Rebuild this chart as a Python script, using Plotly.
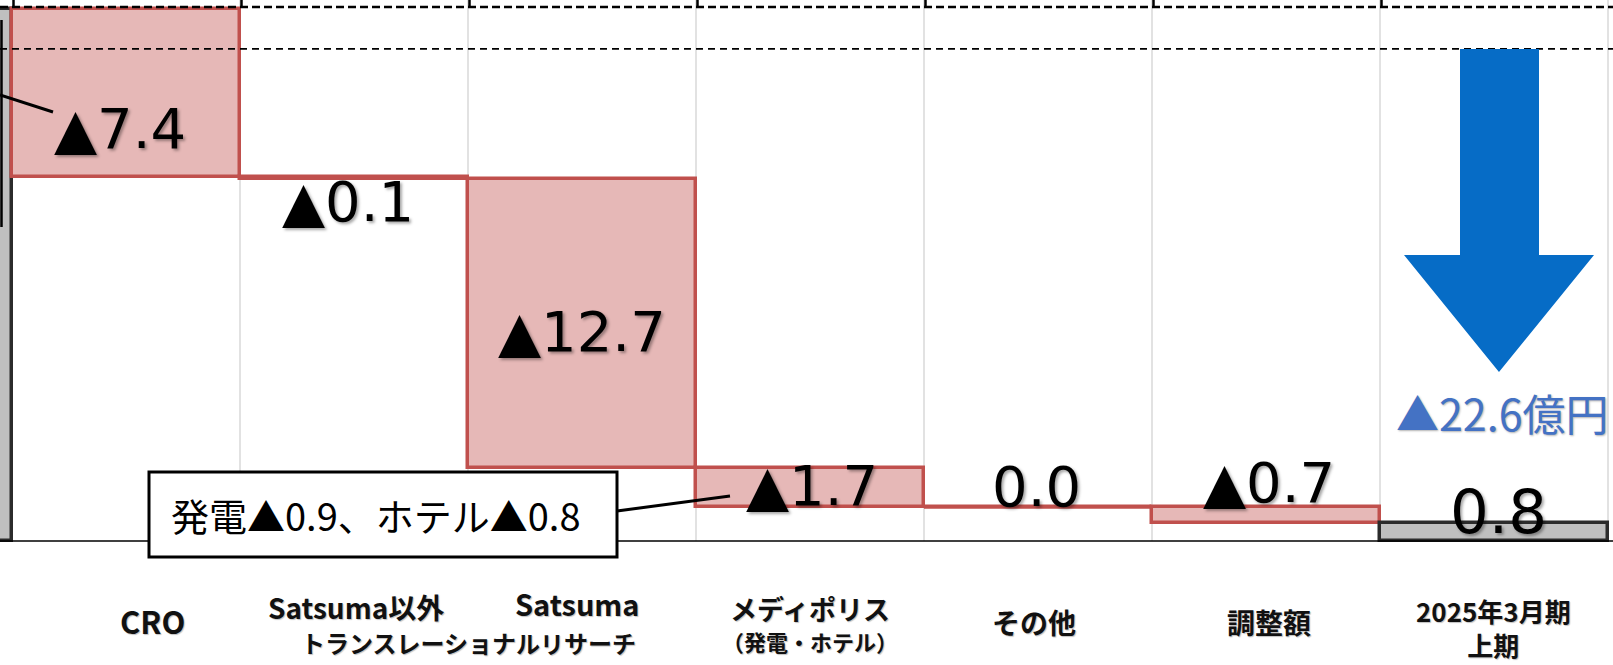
import plotly.graph_objects as go

# ---------------- data ----------------
categories = ["2024年3月期上期", "CRO", "Satsuma以外", "Satsuma", "メディポリス",
              "その他", "調整額", "2025年3月期"]
sub_labels = {"Satsuma以外": "トランスレーショナルリサーチ",
              "メディポリス": "（発電・ホテル）",
              "2025年3月期": "上期"}
start_total = 23.4
changes = [-7.4, -0.1, -12.7, -1.7, 0.0, -0.7]
end_total = 0.8
total_change_label = "▲22.6億円"
breakdown_label = "発電▲0.9、ホテル▲0.8"
ref_levels = [23.48, 21.64]   # dashed reference lines

# ---------------- geometry helpers ----------------
W, H = 1613, 665
COL_W = 228.0
PX_PER_UNIT = 22.74
BASE_PX = 541.0
X0 = 0.5 - 12.0 / COL_W
X1 = X0 + W / COL_W
Y_TOP = BASE_PX / PX_PER_UNIT
Y_BOT = -(H - BASE_PX) / PX_PER_UNIT


def xd(px):
    return X0 + px / COL_W


def yd(py):
    return (BASE_PX - py) / PX_PER_UNIT


# ---------------- waterfall computation ----------------
bases, heights, fills, lines = [], [], [], []
bases.append(0.0); heights.append(start_total)
fills.append("#BFBFBF"); lines.append("#2B2B2B")
level = start_total
levels_after = []
for c in changes:
    new_level = level + c
    bases.append(min(level, new_level))
    heights.append(abs(c))
    fills.append("#E6B8B7"); lines.append("#C0504D")
    level = new_level
    levels_after.append(level)
bases.append(0.0); heights.append(end_total)
fills.append("#BFBFBF"); lines.append("#2B2B2B")

xs = list(range(len(categories)))

fig = go.Figure()
fig.add_trace(go.Bar(
    x=xs, y=heights, base=bases, width=1.0,
    marker=dict(color=fills, line=dict(color=lines, width=3.5)),
    hoverinfo="skip", showlegend=False,
))

# zero-height changes drawn as a flat line
for i, c in enumerate(changes):
    if c == 0:
        lvl = levels_after[i]
        fig.add_trace(go.Scatter(
            x=[i + 1 - 0.5, i + 1 + 0.5], y=[lvl, lvl], mode="lines",
            line=dict(color="#C0504D", width=3.5), hoverinfo="skip", showlegend=False))

shapes = []
# vertical light gridlines at column boundaries
for b in range(1, 8):
    shapes.append(dict(type="line", xref="x", yref="y", x0=b + 0.5, x1=b + 0.5,
                       y0=0, y1=Y_TOP, line=dict(color="#D9D9D9", width=1.5), layer="below"))
# dashed reference lines
shapes.append(dict(type="line", xref="paper", yref="y", x0=0, x1=1, y0=ref_levels[0], y1=ref_levels[0],
                   line=dict(color="black", width=2.5, dash="8px,4px"), layer="above"))
shapes.append(dict(type="line", xref="paper", yref="y", x0=0, x1=1, y0=ref_levels[1], y1=ref_levels[1],
                   line=dict(color="black", width=1.6, dash="7px,5px"), layer="above"))
# short black ticks above the top dashed line
for b in range(0, 7):
    shapes.append(dict(type="line", xref="x", yref="y", x0=b + 0.5 + 1.5 / COL_W, x1=b + 0.5 + 1.5 / COL_W,
                       y0=ref_levels[0], y1=Y_TOP, line=dict(color="black", width=2.5)))
# baseline
shapes.append(dict(type="line", xref="paper", yref="y", x0=0, x1=1, y0=0, y1=0,
                   line=dict(color="black", width=1.5), layer="above"))
# cropped callout pieces at the left edge
shapes.append(dict(type="line", xref="x", yref="y", x0=xd(1.5), x1=xd(1.5), y0=yd(20), y1=yd(227),
                   line=dict(color="black", width=2.5)))
shapes.append(dict(type="line", xref="x", yref="y", x0=xd(0), x1=xd(53), y0=yd(95), y1=yd(112),
                   line=dict(color="black", width=3)))
# breakdown callout box + connector
shapes.append(dict(type="line", xref="x", yref="y", x0=xd(617), x1=xd(730), y0=yd(511), y1=yd(496),
                   line=dict(color="black", width=3)))
shapes.append(dict(type="rect", xref="x", yref="y", x0=xd(149), x1=xd(617), y0=yd(472), y1=yd(557),
                   fillcolor="white", line=dict(color="black", width=3), layer="above"))
# big blue arrow
pts = [(1460, 49), (1539, 49), (1539, 255), (1594, 255), (1499, 372), (1404, 255), (1460, 255)]
path = "M " + " L ".join(f"{xd(px):.4f},{yd(py):.4f}" for px, py in pts) + " Z"
shapes.append(dict(type="path", xref="x", yref="y", path=path, fillcolor="#066CC6",
                   line=dict(width=0), layer="above"))

fig.update_layout(shapes=shapes)

SHADOW = "2px 2px 3px rgba(0,0,0,0.35)"
LBL_SHADOW = "1px 1px 1px rgba(0,0,0,0.25)"
NUM_FONT = "DejaVu Sans"
JP_FONT = "Noto Sans CJK JP"


def fmt(v):
    return "0.0" if v == 0 else ("▲" if v < 0 else "") + f"{abs(v):.1f}"


annotations = []
# value labels (pixel positions of label centers)
value_pos = [(120, 128), (348, 201), (582, 331), (812, 485), (1036, 486), (1269, 482)]
for (px, py), v in zip(value_pos, changes):
    annotations.append(dict(x=xd(px), y=yd(py), xref="x", yref="y", text=fmt(v), showarrow=False,
                            xanchor="center", yanchor="middle",
                            font=dict(family=NUM_FONT, size=56, color="black", shadow=SHADOW)))
annotations.append(dict(x=xd(1498), y=yd(511), xref="x", yref="y", text=fmt(end_total), showarrow=False,
                        xanchor="center", yanchor="middle",
                        font=dict(family=NUM_FONT, size=61, color="black", shadow=SHADOW)))
annotations.append(dict(x=xd(1502), y=yd(412), xref="x", yref="y", text=total_change_label, showarrow=False,
                        xanchor="center", yanchor="middle",
                        font=dict(family=JP_FONT, size=43, color="#4472C4",
                                  shadow="1px 1px 2px rgba(0,0,0,0.3)")))
annotations.append(dict(x=xd(376), y=yd(514), xref="x", yref="y", text=breakdown_label, showarrow=False,
                        xanchor="center", yanchor="middle",
                        font=dict(family=JP_FONT, size=38, color="black")))


def cat_label(px, py, text, size):
    annotations.append(dict(x=xd(px), y=yd(py), xref="x", yref="y", text=text, showarrow=False,
                            xanchor="center", yanchor="middle",
                            font=dict(family=JP_FONT, size=size, color="#111111", shadow=LBL_SHADOW)))


# category labels
cat_label(152, 620, f"<b>{categories[1]}</b>", 31)
cat_label(356, 607, f"<b>{categories[2]}</b>", 28)
cat_label(577, 603, f"<b>{categories[3]}</b>", 29)
cat_label(468, 642, f"<b>{sub_labels[categories[2]]}</b>", 24)
cat_label(810, 608, f"<b>{categories[4]}</b>", 27)
cat_label(810, 641, f"<b>{sub_labels[categories[4]]}</b>", 22)
cat_label(1034, 622, f"<b>{categories[5]}</b>", 28)
cat_label(1269, 622, f"<b>{categories[6]}</b>", 28)
cat_label(1493, 627, f"<b>{categories[7]}<br>{sub_labels[categories[7]]}</b>", 26)

fig.update_layout(
    annotations=annotations,
    width=W, height=H,
    margin=dict(l=0, r=0, t=0, b=0),
    paper_bgcolor="white", plot_bgcolor="white",
    xaxis=dict(range=[X0, X1], showgrid=False, zeroline=False, showticklabels=False, ticks="",
               fixedrange=True),
    yaxis=dict(range=[Y_BOT, Y_TOP], showgrid=False, zeroline=False, showticklabels=False, ticks="",
               fixedrange=True),
    bargap=0, showlegend=False,
)

fig.write_html("out.html", config={"displayModeBar": False})
